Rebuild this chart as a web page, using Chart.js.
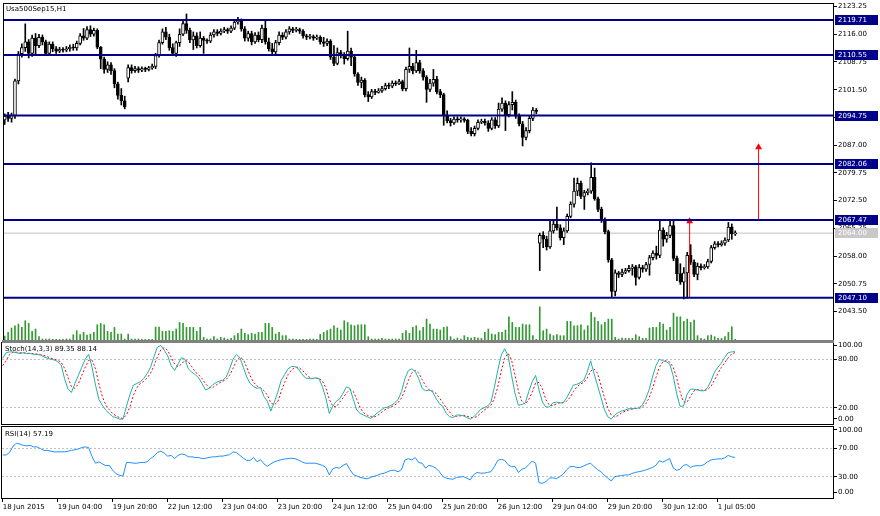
<!DOCTYPE html>
<html lang="en">
<head>
  <meta charset="UTF-8" />
  <title>Usa500Sep15,H1</title>
  <script src="https://cdn.jsdelivr.net/npm/chart.js@4"></script>
  <style>
    body { margin: 0; background: #fff; font-family: "DejaVu Sans", sans-serif; }
    #wrap { position: relative; width: 880px; height: 516px; overflow: hidden; }
    canvas { position: absolute; left: 0; }
    .lbl { position: absolute; font-size: 7px; color: #000; white-space: nowrap; line-height: 8px; }
    .sep { position: absolute; left: 2px; width: 832px; background: #808080; }
  </style>
</head>
<body>
<div id="wrap">
  <canvas id="main" style="top:0" width="880" height="344"></canvas>
  <canvas id="stoch" style="top:341px" width="880" height="85"></canvas>
  <canvas id="rsi" style="top:425px" width="880" height="91"></canvas>
  <div class="sep" style="top:340px;height:3px"></div>
  <div class="lbl" style="left:6px;top:5px">Usa500Sep15,H1</div>
  <div class="lbl" style="left:5px;top:345px">Stoch(14,3,3) 89.35 88.14</div>
  <div class="lbl" style="left:5px;top:430px">RSI(14) 57.19</div>
</div>

<script>
  // H1 bars, 18 Jun 2015 12:00 .. 1 Jul 2015 10:00
  const opens = [
    2093.6, 2094.6, 2094.0, 2094.8, 2103.8, 2110.9, 2112.5, 2114.0, 2111.0, 2115.0,
    2113.0, 2115.2, 2114.0, 2111.0, 2113.4, 2112.2, 2111.6, 2112.0, 2111.8, 2112.2,
    2112.6, 2112.4, 2113.6, 2115.6, 2115.0, 2117.2, 2116.0, 2117.0, 2112.6, 2109.5,
    2106.8, 2108.0, 2106.5, 2103.0, 2100.0, 2098.6, 2104.5, 2107.3, 2106.5, 2107.0,
    2106.6, 2107.0, 2106.8, 2107.2, 2107.6, 2110.4, 2113.8, 2116.6, 2115.2, 2112.5,
    2111.0, 2113.8, 2116.0, 2118.8, 2117.0, 2114.5, 2115.6, 2113.0, 2115.0, 2114.4,
    2114.2, 2115.8, 2116.6, 2116.2, 2116.8, 2117.2, 2116.8, 2117.6, 2119.2, 2119.6,
    2117.4, 2115.0, 2116.2, 2114.0, 2115.8, 2114.6, 2117.6, 2114.0, 2112.2, 2111.4,
    2113.8, 2115.8, 2115.2, 2116.6, 2117.4, 2117.0, 2117.2, 2116.8, 2115.6, 2115.2,
    2115.4, 2115.0, 2115.2, 2114.0, 2113.6, 2114.2, 2110.0, 2108.4, 2111.2, 2110.4,
    2109.6, 2111.6, 2110.0, 2105.6, 2103.4, 2104.0, 2100.2, 2099.6, 2101.0, 2100.8,
    2101.2, 2101.8, 2102.6, 2102.4, 2103.2, 2103.0, 2103.6, 2101.8, 2106.8, 2107.6,
    2106.4, 2108.6, 2106.4, 2104.8, 2101.6, 2103.2, 2104.2, 2101.0, 2100.2, 2094.8,
    2093.4, 2092.8, 2093.8, 2093.6, 2093.9, 2093.5, 2090.6, 2090.0, 2091.4, 2093.0,
    2093.2, 2092.8, 2091.4, 2093.6, 2092.0, 2096.4, 2098.0, 2095.0, 2097.6, 2098.2,
    2094.6, 2092.6, 2089.0, 2090.8, 2094.0, 2096.2, 2061.4, 2063.4, 2062.4, 2060.4,
    2064.6, 2066.4, 2065.4, 2062.8, 2064.6, 2068.4, 2071.6, 2075.0, 2077.0, 2073.6,
    2074.6, 2075.0, 2078.6, 2073.0, 2070.2, 2067.6, 2064.4, 2057.0, 2048.8, 2053.6,
    2053.2, 2053.8, 2054.2, 2054.8, 2055.2, 2052.4, 2055.0, 2054.6, 2055.8, 2057.6,
    2058.8, 2058.2, 2064.8, 2062.4, 2063.4, 2066.0, 2057.4, 2053.4, 2051.2, 2053.6,
    2058.2, 2056.4, 2053.2, 2055.4, 2055.0, 2055.2, 2056.6, 2060.2, 2061.2, 2061.0,
    2061.4, 2062.2, 2065.6, 2063.8
  ];
  const highs = [
    2095.2, 2095.6, 2095.4, 2104.3, 2111.5, 2113.5, 2118.7, 2114.6, 2115.8, 2116.2,
    2116.0, 2115.8, 2114.5, 2114.0, 2114.0, 2112.8, 2112.6, 2112.5, 2112.8, 2113.2,
    2113.4, 2114.2, 2116.2, 2117.5, 2118.0, 2118.2, 2117.6, 2117.4, 2112.8, 2110.0,
    2108.8, 2108.6, 2107.0, 2103.5, 2101.8, 2099.8, 2108.0, 2108.0, 2107.6, 2107.5,
    2107.5, 2107.4, 2107.6, 2108.2, 2111.0, 2114.5, 2117.4, 2117.8, 2116.0, 2113.5,
    2114.2, 2117.4, 2119.6, 2121.3, 2117.6, 2116.6, 2116.4, 2116.6, 2115.4, 2114.8,
    2116.4, 2117.2, 2117.2, 2117.4, 2117.8, 2117.6, 2118.2, 2119.8, 2120.4, 2120.0,
    2118.0, 2116.8, 2116.8, 2116.4, 2116.6, 2118.4, 2119.8, 2115.0, 2113.6, 2114.4,
    2116.6, 2116.4, 2117.2, 2118.0, 2117.8, 2117.8, 2117.6, 2117.2, 2116.0, 2116.0,
    2115.8, 2115.8, 2115.6, 2115.2, 2114.8, 2114.6, 2113.0, 2112.4, 2111.8, 2111.2,
    2116.8, 2112.4, 2110.4, 2106.0, 2104.8, 2104.4, 2101.0, 2101.6, 2101.6, 2101.8,
    2102.4, 2103.2, 2103.2, 2103.8, 2103.8, 2104.2, 2104.0, 2107.4, 2112.4, 2108.4,
    2111.8, 2109.2, 2107.0, 2105.2, 2104.2, 2106.8, 2105.0, 2101.6, 2100.6, 2096.0,
    2094.0, 2094.4, 2094.4, 2094.4, 2094.2, 2093.8, 2091.6, 2092.0, 2093.6, 2093.8,
    2093.8, 2093.4, 2094.2, 2094.2, 2098.0, 2099.4, 2098.6, 2098.4, 2101.0, 2098.8,
    2095.2, 2093.2, 2091.6, 2094.8, 2096.8, 2096.6, 2064.0, 2064.4, 2063.2, 2067.6,
    2067.2, 2070.8, 2066.2, 2065.4, 2069.0, 2072.2, 2078.4, 2078.4, 2077.6, 2075.2,
    2075.6, 2082.4, 2081.0, 2073.4, 2070.8, 2068.0, 2064.8, 2057.4, 2054.4, 2054.0,
    2054.6, 2054.8, 2055.6, 2055.8, 2055.6, 2055.8, 2055.6, 2056.4, 2058.2, 2059.4,
    2060.6, 2067.4, 2065.4, 2064.2, 2067.4, 2067.6, 2058.0, 2056.0, 2055.0, 2059.0,
    2061.0, 2057.0, 2056.2, 2056.0, 2055.8, 2057.2, 2060.8, 2061.8, 2061.8, 2062.0,
    2062.8, 2066.8, 2066.4, 2064.6
  ];
  const lows = [
    2092.4, 2093.2, 2093.0, 2094.0, 2103.0, 2110.0, 2111.5, 2109.8, 2110.2, 2110.5,
    2112.5, 2113.2, 2110.6, 2110.8, 2111.4, 2111.0, 2111.2, 2111.3, 2111.4, 2111.6,
    2111.8, 2111.8, 2113.2, 2114.4, 2114.6, 2115.4, 2115.5, 2112.2, 2107.0, 2105.8,
    2106.0, 2105.5, 2102.0, 2099.0, 2097.5, 2096.5, 2103.5, 2105.8, 2106.0, 2106.0,
    2106.2, 2106.2, 2106.4, 2106.8, 2107.0, 2110.0, 2113.4, 2114.6, 2111.8, 2110.4,
    2110.2, 2112.8, 2115.6, 2116.2, 2113.8, 2112.0, 2112.4, 2112.6, 2111.0, 2113.6,
    2113.8, 2115.2, 2115.6, 2115.8, 2116.4, 2116.2, 2116.4, 2117.2, 2118.6, 2116.8,
    2114.2, 2114.2, 2113.2, 2113.6, 2114.0, 2113.8, 2113.4, 2111.6, 2110.6, 2110.8,
    2113.2, 2114.6, 2114.8, 2116.0, 2116.4, 2116.6, 2116.2, 2115.0, 2114.6, 2114.8,
    2114.4, 2114.6, 2113.4, 2112.8, 2113.0, 2109.4, 2107.8, 2108.0, 2109.8, 2108.2,
    2109.2, 2107.8, 2105.0, 2102.6, 2102.0, 2099.6, 2098.4, 2099.2, 2100.2, 2100.6,
    2100.8, 2101.4, 2101.8, 2102.0, 2102.6, 2102.8, 2101.2, 2101.2, 2106.0, 2105.6,
    2106.0, 2105.8, 2104.0, 2098.2, 2101.0, 2102.4, 2100.4, 2099.4, 2092.2, 2092.8,
    2092.0, 2092.4, 2093.0, 2093.0, 2093.0, 2090.0, 2089.4, 2089.4, 2091.0, 2092.6,
    2092.2, 2090.6, 2091.0, 2091.4, 2091.6, 2095.8, 2090.8, 2094.4, 2096.2, 2094.0,
    2092.0, 2086.8, 2088.4, 2090.2, 2093.4, 2095.2, 2054.2, 2060.2, 2059.6, 2060.0,
    2064.0, 2064.8, 2062.2, 2061.0, 2064.2, 2068.0, 2070.8, 2073.8, 2073.0, 2070.2,
    2074.0, 2074.4, 2072.6, 2069.6, 2066.8, 2063.8, 2056.4, 2047.2, 2047.6, 2052.4,
    2052.6, 2053.4, 2053.8, 2053.0, 2050.4, 2052.0, 2053.8, 2054.0, 2053.0, 2057.0,
    2057.2, 2057.6, 2060.6, 2061.6, 2062.8, 2056.8, 2051.6, 2050.6, 2046.8, 2047.0,
    2055.8, 2052.6, 2051.8, 2054.4, 2054.6, 2054.8, 2056.2, 2059.8, 2060.4, 2060.6,
    2060.8, 2061.8, 2062.4, 2063.4
  ];
  const closes = [
    2094.6, 2094.0, 2094.8, 2103.8, 2110.9, 2112.5, 2114.0, 2111.0, 2115.0, 2113.0,
    2115.2, 2114.0, 2111.0, 2113.4, 2112.2, 2111.6, 2112.0, 2111.8, 2112.2, 2112.6,
    2112.4, 2113.6, 2115.6, 2115.0, 2117.2, 2116.0, 2117.0, 2112.6, 2109.5, 2106.8,
    2108.0, 2106.5, 2103.0, 2100.0, 2098.6, 2097.0, 2107.3, 2106.5, 2107.0, 2106.6,
    2107.0, 2106.8, 2107.2, 2107.6, 2110.4, 2113.8, 2116.6, 2115.2, 2112.5, 2111.0,
    2113.8, 2116.0, 2118.8, 2117.0, 2114.5, 2115.6, 2113.0, 2115.0, 2114.4, 2114.2,
    2115.8, 2116.6, 2116.2, 2116.8, 2117.2, 2116.8, 2117.6, 2119.2, 2119.6, 2117.4,
    2115.0, 2116.2, 2114.0, 2115.8, 2114.6, 2117.6, 2114.0, 2112.2, 2111.4, 2113.8,
    2115.8, 2115.2, 2116.6, 2117.4, 2117.0, 2117.2, 2116.8, 2115.6, 2115.2, 2115.4,
    2115.0, 2115.2, 2114.0, 2113.6, 2114.2, 2110.0, 2108.4, 2111.2, 2110.4, 2109.6,
    2111.6, 2110.0, 2105.6, 2103.4, 2104.0, 2100.2, 2099.6, 2101.0, 2100.8, 2101.2,
    2101.8, 2102.6, 2102.4, 2103.2, 2103.0, 2103.6, 2101.8, 2106.8, 2107.6, 2106.4,
    2108.6, 2106.4, 2104.8, 2101.6, 2103.2, 2104.2, 2101.0, 2100.2, 2094.8, 2093.4,
    2092.8, 2093.8, 2093.6, 2093.9, 2093.5, 2090.6, 2090.0, 2091.4, 2093.0, 2093.2,
    2092.8, 2091.4, 2093.6, 2092.0, 2096.4, 2098.0, 2095.0, 2097.6, 2098.2, 2094.6,
    2092.6, 2089.0, 2090.8, 2094.0, 2096.2, 2095.8, 2063.4, 2062.4, 2060.4, 2064.6,
    2066.4, 2065.4, 2062.8, 2064.6, 2068.4, 2071.6, 2075.0, 2077.0, 2073.6, 2074.6,
    2075.0, 2078.6, 2073.0, 2070.2, 2067.6, 2064.4, 2057.0, 2048.8, 2053.6, 2053.2,
    2053.8, 2054.2, 2054.8, 2055.2, 2052.4, 2055.0, 2054.6, 2055.8, 2057.6, 2058.8,
    2058.2, 2064.8, 2062.4, 2063.4, 2066.0, 2057.4, 2053.4, 2051.2, 2053.6, 2058.2,
    2056.4, 2053.2, 2055.4, 2055.0, 2055.2, 2056.6, 2060.2, 2061.2, 2061.0, 2061.4,
    2062.2, 2065.6, 2063.8, 2064.0
  ];
  const volumes = [
    600, 1150, 1800, 2150, 2400, 1900, 2900, 2500, 1300, 1650,
    500, 150, 150, 150, 100, 100, 100, 100, 150, 150,
    800, 1400, 800, 1150, 750, 900, 1150, 2300, 2500, 2300,
    1300, 1150, 1900, 900, 900, 150, 900, 150, 150, 150,
    100, 100, 100, 100, 1950, 1950, 1300, 1300, 1400, 1300,
    1650, 2650, 2500, 1900, 1900, 1900, 1300, 1900, 400, 150,
    150, 500, 150, 400, 300, 150, 250, 650, 1000, 1650,
    1000, 800, 1000, 900, 1150, 1150, 2500, 2500, 1900, 900,
    1150, 650, 650, 150, 150, 100, 100, 100, 100, 150,
    150, 100, 850, 1150, 1400, 1650, 2150, 1800, 1500, 2900,
    2650, 2300, 2150, 2300, 2300, 2300, 500, 150, 150, 150,
    250, 150, 150, 150, 150, 150, 1000, 1400, 1000, 1900,
    2150, 1400, 1900, 3150, 2400, 1650, 1650, 1500, 1900, 2000,
    500, 150, 300, 150, 650, 400, 300, 400, 300, 250,
    1150, 1650, 900, 800, 1150, 1150, 1500, 3500, 2650, 1900,
    1900, 2400, 2300, 2300, 650, 100, 5000, 1400, 1650, 900,
    650, 800, 650, 650, 2800, 2800, 2150, 2150, 2300, 1500,
    2150, 4150, 3400, 2800, 2300, 2650, 3150, 3150, 400, 150,
    300, 250, 250, 250, 800, 500, 250, 250, 1800, 1900,
    1900, 2650, 2400, 1500, 1900, 4050, 3500, 3500, 2800, 3150,
    2650, 3000, 650, 250, 150, 650, 750, 500, 250, 250,
    500, 1150, 2000, 100
  ];
  const stochMain = [
    81, 88, 89, 89, 88, 87, 88, 87, 87, 86,
    86, 85, 83, 81, 80, 79, 77, 73, 56, 43,
    39, 50, 60, 70, 80, 86, 70, 48, 30, 23,
    17, 13, 9, 8, 6, 6, 22, 36, 48, 50,
    52, 56, 62, 70, 83, 95, 97, 91, 84, 72,
    66, 74, 82, 80, 68, 64, 61, 57, 50, 42,
    44, 48, 51, 53, 54, 58, 68, 80, 86, 82,
    70, 58, 50, 46, 44, 45, 34, 28, 16, 27,
    39, 54, 61, 68, 71, 71, 68, 62, 57, 56,
    56, 57, 56, 46, 32, 13, 22, 28, 31, 38,
    46, 44, 30, 17, 13, 11, 9, 7, 10, 14,
    17, 20, 21, 23, 26, 30, 40, 56, 66, 68,
    65, 56, 44, 41, 42, 40, 32, 25, 22, 13,
    9, 8, 11, 11, 10, 8, 6, 9, 13, 18,
    20, 22, 27, 45, 66, 85, 93, 84, 60, 38,
    23, 24, 26, 40, 52, 60, 42, 27, 21, 21,
    26, 27, 26, 26, 32, 40, 48, 49, 51, 54,
    64, 78, 62, 48, 33, 18, 9, 6, 11, 14,
    16, 17, 19, 19, 19, 20, 23, 31, 42, 58,
    72, 80, 78, 77, 74, 60, 38, 22, 22, 36,
    43, 43, 42, 41, 41, 45, 53, 64, 70, 75,
    82, 88, 89, 89.35
  ];
  const stochSignal = [
    72, 78, 86, 88.7, 88.7, 88, 87.7, 87.3, 87.3, 86.7,
    86.3, 85.7, 84.7, 83, 81.3, 80, 78.7, 76.3, 68.7, 57.3,
    46, 44, 49.7, 60, 70, 78.7, 78.7, 68, 49.3, 33.7,
    23.3, 17.7, 13, 10, 7.7, 6.7, 11.3, 21.3, 35.3, 44.7,
    50, 52.7, 56.7, 62.7, 71.7, 82.7, 91.7, 94.3, 90.7, 82.3,
    74, 70.7, 74, 78.7, 76.7, 70.7, 64.3, 60.7, 56, 49.7,
    45.3, 44.7, 47.7, 50.7, 52.7, 55, 60, 68.7, 78, 82.7,
    79.3, 70, 59.3, 51.3, 46.7, 45, 41, 35.7, 26, 23.7,
    27.3, 40, 51.3, 61, 66.7, 70, 70, 67, 62.3, 58.3,
    56.3, 56.3, 56.3, 53, 44.7, 30.3, 22.3, 21, 27, 32.3,
    38.3, 42.7, 40, 30.3, 20, 13.7, 11, 9, 8.7, 10.3,
    13.7, 17, 19.3, 21.3, 23.3, 26.3, 32, 42, 54, 63.3,
    66.3, 63, 55, 47, 42.3, 41, 38, 32.3, 26.3, 20,
    14.7, 10, 9.3, 10, 10.7, 9.7, 8, 7.7, 9.3, 13.3,
    17, 20, 23, 31.3, 46, 65.3, 81.3, 87.3, 79, 60.7,
    40.3, 28.3, 24.3, 30, 39.3, 50.7, 51.3, 43, 30, 23,
    22.7, 24.7, 26.3, 26.3, 28, 32.7, 40, 45.7, 49.3, 51.3,
    56.3, 65.3, 68, 62.7, 47.7, 33, 20, 11, 8.7, 10.3,
    13.7, 15.7, 17.3, 18.3, 19, 19.3, 20.7, 24.7, 32, 43.7,
    57.3, 70, 76.7, 78.3, 76.3, 70.3, 57.3, 40, 27.3, 26.7,
    33.7, 40.7, 42.7, 42, 41.3, 42.3, 46.3, 54, 62.3, 69.7,
    75.7, 81.7, 86.3, 88.14
  ];
  const rsi = [
    60.6, 60.6, 64, 73, 77, 76, 74, 73.5, 74, 72,
    72, 69.5, 67, 67, 66, 65, 65, 65, 65, 66,
    67, 68, 69, 71, 72, 71, 58, 49, 51, 48,
    45.5, 46, 39, 34, 32, 31, 50, 50, 49, 49,
    50, 50, 51, 55.5, 59, 64, 66, 63, 59, 60,
    55.5, 60, 62, 61, 58, 58, 57, 57, 55.5, 56,
    57, 58, 58, 59, 59, 60, 61, 65, 64, 60,
    56, 53, 53, 57, 51, 54, 48, 44.5, 48, 51,
    52.5, 54, 55, 55.5, 56, 55.5, 53.5, 51, 49, 49,
    49, 49, 47.5, 46, 43, 32.5, 41, 43, 42, 46,
    48.5, 40, 33, 31, 29, 28, 27, 29, 30.5, 32,
    34, 35, 37, 39, 39, 37, 40, 53.5, 55.5, 53.5,
    57, 50, 49, 42, 46, 44.5, 42, 37, 30.5, 28,
    27, 26.5, 29, 29.5, 30, 28, 25.5, 33, 36, 35,
    35, 36, 37, 44, 53, 54.5, 53, 47, 44, 44.5,
    36, 40.5, 42, 47, 52, 49, 21.5, 20.7, 23, 28,
    28.5, 27, 30, 33.5, 39.5, 44, 44.5, 43, 43, 45,
    47.5, 49, 44, 40, 37, 32, 28, 24, 30, 31,
    31.5, 32.5, 32.5, 34.5, 36, 37, 38, 39.5, 41, 43,
    46, 52.5, 50.5, 53, 55.5, 42.5, 39, 40.5, 46, 47,
    43, 45, 45.5, 45.5, 47, 51, 53.5, 54.5, 55, 55,
    56.5, 60, 58, 57.19
  ];

  // horizontal levels, bid line and the two red arrows
  const levels = [2119.71, 2110.55, 2094.75, 2082.06, 2067.47, 2047.10];
  const bid = 2064.00;
  const arrowBars = [199.7, 219.8];
  const arrowFrom = [2047.10, 2067.47];
  const arrowTo = [2067.10, 2086.45];

  // axis ticks
  const priceTicks = [2123.25, 2116.00, 2108.75, 2101.50, 2094.25, 2087.00, 2079.75, 2072.50, 2065.25, 2058.00, 2050.75, 2043.50];
  // MT4 pulls the 100/0 labels inside the pane, so those two sit a little inward
  const stochTicks = [96.7, 80, 20, 6.2];
  const stochLabels = ["100.00", "80.00", "20.00", "0.00"];
  const rsiTicks = [95.8, 70, 30, 7.5];
  const rsiLabels = ["100.00", "70.00", "30.00", "0.00"];
  const timeTicks = [0, 16, 32, 48, 64, 80, 96, 112, 128, 144, 160, 176, 192, 208];
  const timeLabels = ["18 Jun 2015", "19 Jun 04:00", "19 Jun 20:00", "22 Jun 12:00", "23 Jun 04:00", "23 Jun 20:00",
    "24 Jun 12:00", "25 Jun 04:00", "25 Jun 20:00", "26 Jun 12:00", "29 Jun 04:00", "29 Jun 20:00", "30 Jun 12:00", "1 Jul 05:00"];

  const X_MIN = -0.2, X_MAX = 241.5;

  Chart.defaults.font.family = '"DejaVu Sans", sans-serif';
  Chart.defaults.font.size = 7;
  Chart.defaults.color = "#000";
  Chart.defaults.animation = false;
  Chart.defaults.events = [];
  Chart.defaults.plugins.legend.display = false;
  Chart.defaults.plugins.tooltip.enabled = false;

  const frame = {
    id: "frame",
    afterDraw(chart) {
      const { ctx, chartArea: a } = chart;
      ctx.save();
      ctx.strokeStyle = "#000";
      ctx.lineWidth = 1;
      ctx.strokeRect(a.left - 0.5, a.top - 0.5, a.right - a.left + 1, a.bottom - a.top + 1);
      ctx.restore();
    }
  };

  // price boxes on the right axis
  const priceTags = {
    id: "priceTags",
    afterDraw(chart) {
      const { ctx } = chart;
      const y = chart.scales.y;
      ctx.save();
      ctx.font = '7px "DejaVu Sans"';
      ctx.textBaseline = "middle";
      const tag = (v, bg) => {
        const py = Math.round(y.getPixelForValue(v));
        ctx.fillStyle = bg;
        ctx.fillRect(y.left + 2, py - 5, 43, 10);
        ctx.fillStyle = "#fff";
        ctx.fillText(v.toFixed(2), y.left + 5, py + 0.5);
      };
      levels.forEach(v => tag(v, "#00008b"));
      tag(bid, "#c8c8c8");
      ctx.restore();
    }
  };

  const xHidden = { type: "linear", min: X_MIN, max: X_MAX, offset: false, display: false };
  const rightAxis = (min, max, ticks, labelFn, gridFn) => ({
    position: "right", min: min, max: max,
    // fixed axis width, and no extra room for the end labels
    afterFit: s => { s.width = 47; s.paddingTop = 0; s.paddingBottom = 0; },
    afterBuildTicks: s => { s.ticks = ticks.map(v => ({ value: v })); },
    ticks: { callback: labelFn, padding: 1, autoSkip: false },
    grid: { drawOnChartArea: !!gridFn, color: gridFn || "#000", tickLength: 4, tickColor: "#000" },
    border: { color: "#000", dash: [2, 2] }
  });

  const idx = closes.map((_, i) => i);

  const mainSets = [];
  levels.forEach(v => mainSets.push({
    type: "line", data: [{ x: X_MIN, y: v }, { x: X_MAX, y: v }],
    borderColor: "#00008b", borderWidth: 2, pointRadius: 0, order: 0
  }));
  mainSets.push({
    type: "line", data: [{ x: X_MIN, y: bid }, { x: X_MAX, y: bid }],
    borderColor: "#c0c0c0", borderWidth: 1, pointRadius: 0, order: 4
  });
  arrowBars.forEach((b, k) => mainSets.push({
    type: "line", data: [{ x: b, y: arrowFrom[k] }, { x: b, y: arrowTo[k] }],
    borderColor: "#ff0000", borderWidth: 1,
    pointRadius: [0, 4], pointStyle: "triangle", pointBorderWidth: 0,
    pointBackgroundColor: "#ff0000", order: 0
  }));
  mainSets.push({
    type: "bar", data: idx.map(i => ({ x: i, y: [opens[i], closes[i]] })),
    grouped: false, barThickness: 3, minBarLength: 1,
    backgroundColor: c => closes[c.dataIndex] >= opens[c.dataIndex] ? "#fff" : "#000",
    borderColor: "#000", borderWidth: 1, borderSkipped: false, order: 1
  });
  mainSets.push({
    type: "bar", data: idx.map(i => ({ x: i, y: [lows[i], highs[i]] })),
    grouped: false, barThickness: 1, backgroundColor: "#000", borderWidth: 0, order: 2
  });
  mainSets.push({
    type: "bar", yAxisID: "yv", data: idx.map(i => ({ x: i, y: volumes[i] })),
    grouped: false, barThickness: 1, backgroundColor: "#339933", borderWidth: 0, order: 3
  });

  new Chart(document.getElementById("main"), {
    type: "bar",
    data: { datasets: mainSets },
    options: {
      responsive: false, devicePixelRatio: 1,
      layout: { padding: { top: 3, left: 2, right: 0, bottom: 1 } },
      scales: {
        x: xHidden,
        y: rightAxis(2036.07, 2123.9, priceTicks, v => v.toFixed(2), null),
        yv: { display: false, min: 0, max: 50600 }
      }
    },
    plugins: [frame, priceTags]
  });

  const dashed = vals => c => (c.tick && vals.includes(c.tick.value)) ? "#c0c0c0" : "rgba(0,0,0,0)";

  new Chart(document.getElementById("stoch"), {
    type: "line",
    data: {
      datasets: [
        { data: idx.map(i => ({ x: i, y: stochMain[i] })), borderColor: "#20b2aa", borderWidth: 1, pointRadius: 0 },
        { data: idx.map(i => ({ x: i, y: stochSignal[i] })), borderColor: "#ff0000", borderWidth: 1, borderDash: [2, 2], pointRadius: 0 }
      ]
    },
    options: {
      responsive: false, devicePixelRatio: 1,
      layout: { padding: { top: 2, left: 2, right: 0, bottom: 2 } },
      scales: {
        x: xHidden,
        y: rightAxis(0, 100, stochTicks, (v, i) => stochLabels[i], dashed([20, 80]))
      }
    },
    plugins: [frame]
  });

  new Chart(document.getElementById("rsi"), {
    type: "line",
    data: {
      datasets: [
        { data: idx.map(i => ({ x: i, y: rsi[i] })), borderColor: "#1e90ff", borderWidth: 1, pointRadius: 0 }
      ]
    },
    options: {
      responsive: false, devicePixelRatio: 1,
      layout: { padding: { top: 2, left: 2, right: 0, bottom: 0 } },
      scales: {
        x: {
          type: "linear", min: X_MIN, max: X_MAX, offset: false, position: "bottom",
          afterFit: s => { s.height = 18; s.paddingLeft = 0; s.paddingRight = 0; },
          afterBuildTicks: s => { s.ticks = timeTicks.map(v => ({ value: v })); },
          ticks: { callback: (v, i) => timeLabels[i], align: "start", autoSkip: false, maxRotation: 0, padding: 1 },
          grid: { drawOnChartArea: false, tickLength: 4, tickColor: "#000" },
          border: { color: "#000" }
        },
        y: rightAxis(0, 100, rsiTicks, (v, i) => rsiLabels[i], dashed([30, 70]))
      }
    },
    plugins: [frame]
  });
</script>
</body>
</html>
